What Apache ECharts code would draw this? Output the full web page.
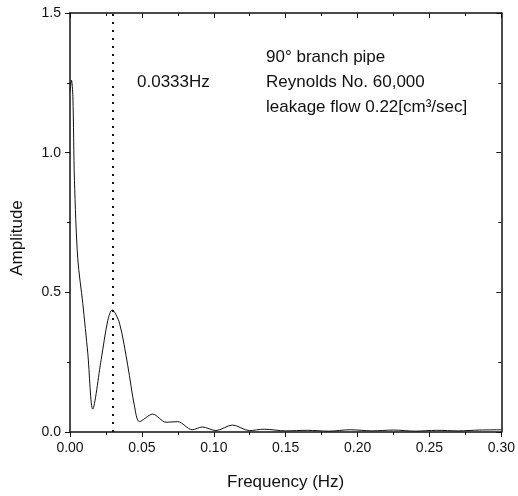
<!DOCTYPE html>
<html>
<head>
<meta charset="utf-8">
<script src="https://cdn.jsdelivr.net/npm/echarts@6/dist/echarts.min.js"></script>
<style>
  html, body { margin: 0; padding: 0; background: #fff; }
  #chart { width: 518px; height: 496px; }
</style>
</head>
<body>
<div id="chart"></div>
<script>
// spectrum
var freq = [0, 0.001, 0.002, 0.0031, 0.0054, 0.0089, 0.0124, 0.0158, 0.0217, 0.0263, 0.0293, 0.0344,
  0.0402, 0.0448, 0.0483, 0.0575, 0.0668, 0.0749, 0.085, 0.092, 0.1015, 0.113, 0.1247, 0.135, 0.15,
  0.165, 0.18, 0.195, 0.21, 0.225, 0.24, 0.255, 0.27, 0.285, 0.3]
var amplitude = [1.22, 1.26, 1.2, 0.9, 0.62, 0.46, 0.28, 0.082, 0.26, 0.40, 0.437, 0.39,
  0.237, 0.094, 0.037, 0.064, 0.035, 0.037, 0.008, 0.018, 0.005, 0.025, 0.005, 0.01, 0.004,
  0.006, 0.003, 0.008, 0.004, 0.007, 0.003, 0.006, 0.004, 0.007, 0.008]
var peakFreq = 0.03
var notes = ['90\u00B0 branch pipe', 'Reynolds No. 60,000', 'leakage flow 0.22[cm\u00B3/sec]']
var peakLabel = '0.0333Hz'

var points = []
for (var i = 0; i < freq.length; i++) {
  points.push([freq[i], amplitude[i]])
}

var ink = '#111'
var font = 'Liberation Sans, Arial, sans-serif'

function frameAxis(pos, max, interval) {
  // mirrored axis that closes the box, ticks pointing in
  return {
    type: 'value',
    position: pos,
    min: 0,
    max: max,
    interval: interval,
    axisLine: { show: true, onZero: false, lineStyle: { color: ink, width: 1.5 } },
    axisTick: { show: true, inside: true, length: 5, lineStyle: { color: ink } },
    minorTick: { show: true, splitNumber: 2, length: 3, lineStyle: { color: ink } },
    splitLine: { show: false },
    axisLabel: { show: false }
  }
}

var chart = echarts.init(document.getElementById('chart'))
chart.setOption({
  backgroundColor: '#fff',
  animation: false,
  grid: { left: 70, right: 15, top: 13, bottom: 63 },
  xAxis: [{
    type: 'value',
    min: 0,
    max: 0.3,
    interval: 0.05,
    name: 'Frequency (Hz)',
    nameLocation: 'middle',
    nameGap: 42,
    nameTextStyle: { color: ink, fontSize: 17, fontFamily: font },
    axisLine: { show: true, onZero: false, lineStyle: { color: ink, width: 1.5 } },
    axisTick: { show: true, length: 5, lineStyle: { color: ink } },
    minorTick: { show: true, splitNumber: 2, length: 3, lineStyle: { color: ink } },
    splitLine: { show: false },
    axisLabel: {
      color: ink, fontSize: 14, fontFamily: font, margin: 9,
      formatter: function(v) { return v.toFixed(2) }
    }
  }, frameAxis('top', 0.3, 0.05)],
  yAxis: [{
    type: 'value',
    min: 0,
    max: 1.5,
    interval: 0.5,
    axisLine: { show: true, onZero: false, lineStyle: { color: ink, width: 1.5 } },
    axisTick: { show: true, length: 5, lineStyle: { color: ink } },
    minorTick: { show: true, splitNumber: 2, length: 3, lineStyle: { color: ink } },
    splitLine: { show: false },
    axisLabel: {
      color: ink, fontSize: 14, fontFamily: font, margin: 9,
      formatter: function(v) { return v.toFixed(1) }
    }
  }, frameAxis('right', 1.5, 0.5)],
  series: [{
    type: 'line',
    data: points,
    smooth: 0.3,
    showSymbol: false,
    lineStyle: { color: ink, width: 1 },
    markLine: {
      silent: true,
      symbol: 'none',
      label: { show: false },
      lineStyle: { color: ink, type: [2, 6], width: 2 },
      data: [{ xAxis: peakFreq }]
    }
  }],
  graphic: [{
    type: 'text',
    x: 17,
    y: 238,
    rotation: Math.PI / 2,
    style: { text: 'Amplitude', fill: ink, font: '17px ' + font, align: 'center', verticalAlign: 'middle' }
  }, {
    type: 'text',
    left: 137,
    top: 74,
    style: { text: peakLabel, fill: ink, font: '17px ' + font }
  }, {
    type: 'text',
    left: 266,
    top: 45,
    style: { text: notes.join('\n'), fill: ink, font: '17px ' + font, lineHeight: 25 }
  }]
})
</script>
</body>
</html>
